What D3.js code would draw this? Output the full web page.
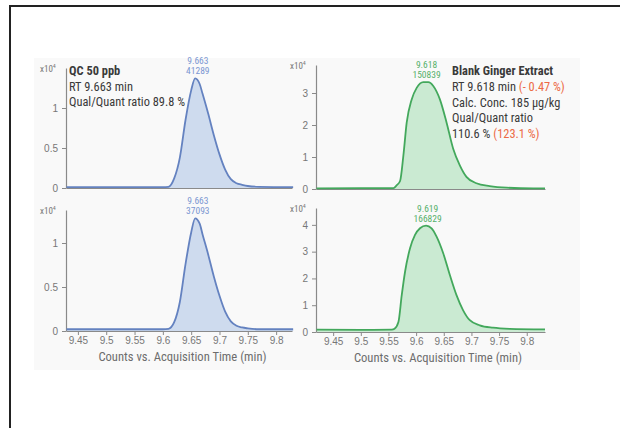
<!DOCTYPE html>
<html><head><meta charset="utf-8">
<script src="https://cdn.jsdelivr.net/npm/d3@7"></script>
<style>
body{margin:0;background:#fff;}
svg{display:block;font-family:"Liberation Sans Narrow","Arial Narrow","Roboto Condensed",sans-serif;}
</style></head>
<body><svg id="c" width="620" height="428"></svg>
<script>
// ---- data (intensity in x10^4 counts) ----
const qcTime   = [9.43,9.60,9.61,9.62,9.63,9.64,9.65,9.657,9.665,9.67,9.68,9.69,9.70,9.71,9.72,9.73,9.74,9.75,9.77,9.83];
const qcTop    = [0.01,0.01,0.015,0.12,0.38,0.85,1.22,1.37,1.30,1.18,0.93,0.66,0.42,0.23,0.11,0.06,0.04,0.025,0.015,0.01];
const qcBottom = [0.02,0.02,0.025,0.10,0.33,0.76,1.12,1.28,1.22,1.10,0.87,0.62,0.40,0.22,0.11,0.06,0.04,0.03,0.02,0.02];

const gTopTime = [9.42,9.50,9.559,9.565,9.571,9.577,9.583,9.592,9.601,9.613,9.622,9.631,9.643,9.655,9.667,9.679,9.691,9.709,9.733,9.764,9.812,9.833];
const gTop     = [0.02,0.03,0.03,0.12,0.25,1.05,2.08,2.80,3.16,3.34,3.34,3.22,2.80,2.08,1.26,0.74,0.38,0.18,0.09,0.04,0.02,0.02];

const gBotTime = [9.42,9.50,9.556,9.561,9.568,9.574,9.580,9.589,9.598,9.607,9.618,9.628,9.637,9.649,9.661,9.673,9.685,9.697,9.715,9.739,9.769,9.833];
const gBottom  = [0.09,0.08,0.09,0.125,0.375,1.375,2.25,3.125,3.625,3.875,3.975,3.87,3.56,2.94,2.125,1.375,0.81,0.44,0.25,0.16,0.12,0.10];

const xTicks = [9.45,9.5,9.55,9.6,9.65,9.7,9.75,9.8];
const yTicksLeftTop = [0,0.5,1];
const yTicksLeftBot = [0,0.5,1];
const yTicksRightTop = [0,1,2,3];
const yTicksRightBot = [0,1,2,3,4];

const peakLabels = [["9.663","41289"],["9.663","37093"],["9.618","150839"],["9.619","166829"]];
const peakTimes = [9.660,9.660,9.617,9.619];
const peakVals = [1.37,1.28,3.34,3.975];
const xTitle = "Counts vs. Acquisition Time (min)";

// ---- drawing ----
const svg = d3.select("#c");
const BLUE = {line:"#6482c0", fill:"#c9d7ec", text:"#7b97d2"};
const GREEN = {line:"#43a85c", fill:"#c4e8cd", text:"#55b06a"};
const GRAY = "#8a8a8a";

// frame
svg.append("path").attr("d","M10,428 L10,6 L620,6").attr("fill","none").attr("stroke","#222").attr("stroke-width",2);
// faint backdrop
svg.append("rect").attr("x",34).attr("y",58).attr("width",546).attr("height",312).attr("fill","#f9f9f9");

const panels = [
  {t:qcTime, v:qcTop, xr:[66,292], xd:[9.429,9.828], yr:[188,68], yd:[0,1.5], yt:yTicksLeftTop, c:BLUE, xl:false, k:0, tc:182.5},
  {t:qcTime, v:qcBottom, xr:[66,292], xd:[9.429,9.828], yr:[331,210], yd:[0,1.375], yt:yTicksLeftBot, c:BLUE, xl:true, k:1, tc:182.5},
  {t:gTopTime, v:gTop, xr:[316,545], xd:[9.419,9.833], yr:[189,65], yd:[0,3.875], yt:yTicksRightTop, c:GREEN, xl:false, k:2, tc:438},
  {t:gBotTime, v:gBottom, xr:[316,545], xd:[9.419,9.833], yr:[332,208], yd:[0,4.63], yt:yTicksRightBot, c:GREEN, xl:true, k:3, tc:438},
];

panels.forEach(p=>{
  const x = d3.scaleLinear().domain(p.xd).range(p.xr);
  const y = d3.scaleLinear().domain(p.yd).range(p.yr);
  const g = svg.append("g");
  const pts = p.t.map((t,i)=>[t,p.v[i]]);
  const area = d3.area().x(d=>x(d[0])).y0(y(0)).y1(d=>y(d[1])).curve(d3.curveMonotoneX);
  const line = d3.line().x(d=>x(d[0])).y(d=>y(d[1])).curve(d3.curveMonotoneX);
  g.append("path").datum(pts).attr("d",area).attr("fill",p.c.fill).attr("opacity",0.9);

  // y axis
  const ya = g.append("g").attr("transform",`translate(${p.xr[0]},0)`)
    .call(d3.axisLeft(y).tickValues(p.yt).tickSize(4).tickSizeOuter(0).tickFormat(d=>String(d)));
  ya.select(".domain").attr("stroke",GRAY).attr("stroke-width",1.2);
  ya.selectAll(".tick line").attr("stroke",GRAY);
  ya.selectAll("text").attr("fill","#777").attr("font-size",10).attr("font-family","inherit").attr("dx",-1);
  // x axis
  const xa = g.append("g").attr("transform",`translate(0,${p.yr[0]})`)
    .call(d3.axisBottom(x).tickValues(p.xl?xTicks:[]).tickSize(4).tickSizeOuter(0).tickFormat(d=>String(d)));
  xa.select(".domain").attr("stroke",GRAY).attr("stroke-width",1.2);
  xa.selectAll(".tick line").attr("stroke",GRAY);
  xa.selectAll("text").attr("fill","#777").attr("font-size",10).attr("font-family","inherit").attr("dy","0.6em");

  g.append("path").datum(pts).attr("d",line).attr("fill","none").attr("stroke",p.c.line).attr("stroke-width",1.8);

  // x10^4
  const ex = g.append("text").attr("x",p.xr[0]-26).attr("y",p.yr[1]+4).attr("fill","#777").attr("font-size",9);
  ex.append("tspan").text("x10");
  ex.append("tspan").attr("dy",-4).attr("font-size",6).text("4");

  // peak labels
  const px = x(peakTimes[p.k]), py = y(peakVals[p.k]);
  g.append("text").attr("x",px+1).attr("y",py-14).attr("text-anchor","middle").attr("fill",p.c.text).attr("font-size",9.5).text(peakLabels[p.k][0]);
  g.append("text").attr("x",px+1).attr("y",py-4).attr("text-anchor","middle").attr("fill",p.c.text).attr("font-size",9.5).text(peakLabels[p.k][1]);

  if(p.xl){
    g.append("text").attr("x",p.tc).attr("y",p.yr[0]+30).attr("text-anchor","middle")
      .attr("fill","#6d6d6d").attr("font-size",12.6).text(xTitle);
  }
});

// annotations
const TXT = "#3a3a3a", RED = "#ec6a45";
function ann(x,y,parts,bold){
  const t = svg.append("text").attr("x",x).attr("y",y).attr("font-size",12.4).attr("fill",TXT);
  if(bold) t.attr("font-weight","bold");
  parts.forEach(pp=>{ t.append("tspan").attr("fill",pp[1]||TXT).text(pp[0]); });
}
ann(69,75,[["QC 50 ppb"]],true);
ann(69,91,[["RT 9.663 min"]]);
ann(69,106,[["Qual/Quant ratio 89.8 %"]]);
ann(452,75,[["Blank Ginger Extract"]],true);
ann(452,91,[["RT 9.618 min "],["(- 0.47 %)",RED]]);
ann(452,107,[["Calc. Conc. 185 µg/kg"]]);
ann(452,122,[["Qual/Quant ratio"]]);
ann(452,138,[["110.6 % "],["(123.1 %)",RED]]);
</script></body></html>
